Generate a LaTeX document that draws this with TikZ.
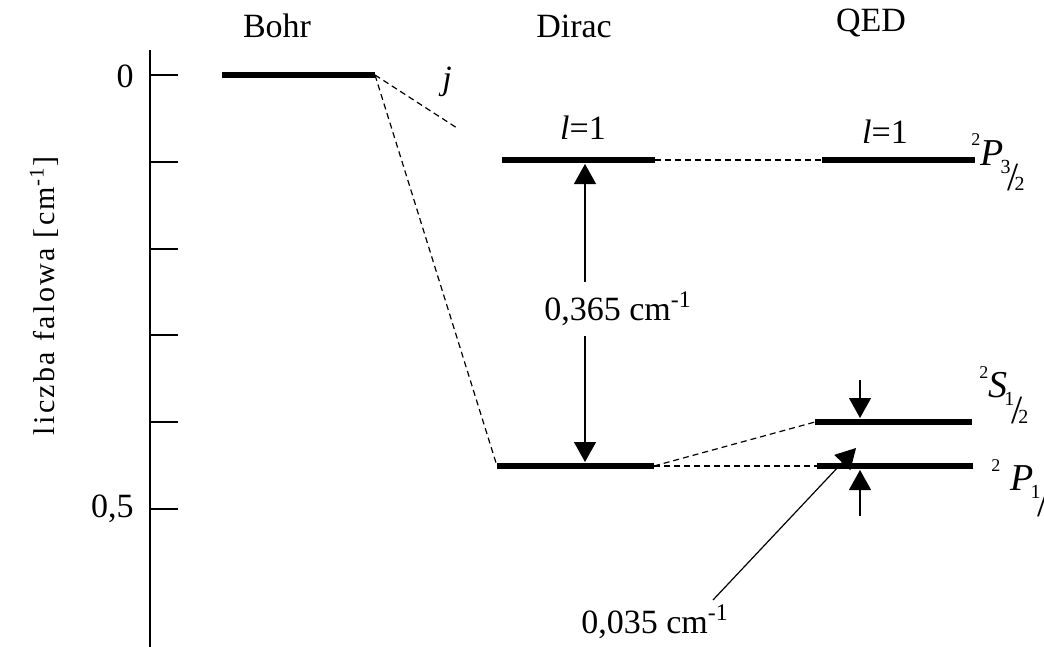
\documentclass[tikz,border=0pt]{standalone}
\usepackage{fontspec}
\setmainfont{Liberation Serif}
\usetikzlibrary{arrows.meta}
\newcommand{\termlab}[3][0pt]{\raisebox{0.5em}{\fontsize{9}{9}\selectfont 2}\kern#1\textit{#2}\kern-0.08em\raisebox{-13pt}{\fontsize{10}{10}\selectfont\raisebox{9pt}{#3}\kern-1.5pt{\fontsize{20}{20}\selectfont/}\kern-2pt2}}
\begin{document}
\begin{tikzpicture}[x=0.5pt,y=-0.5pt,
    every node/.style={font=\fontsize{17}{19}\selectfont, inner sep=1pt},
    level/.style={line width=3.3pt},
    link/.style={dash pattern=on 3pt off 2pt, line width=0.6pt},
    gap/.style={-{Triangle[width=11pt,length=10pt]}, line width=0.6pt},
    term/.style={anchor=base west, font=\fontsize{19}{21}\selectfont}]
    \useasboundingbox (0,0) rectangle (1044,647);

    % axis
    \draw[line width=1pt] (150,50) -- (150,647);
    \foreach \t in {0,...,5}
        \draw[line width=1pt] (150,75+86.8*\t) -- (178,75+86.8*\t);
    \node[anchor=east] (z0) at (136,76) {0};
    \node[anchor=east] (z5) at (136,509) {0,5};
    \node[rotate=90, font=\fontsize{15}{17}\selectfont\addfontfeature{LetterSpace=8}] (ylab) at (44,296) {liczba falowa [cm\textsuperscript{-1}]};

    % headers
    \node[anchor=base] (bohr) at (277,38) {Bohr};
    \node[anchor=base] (dirac) at (574,38) {Dirac};
    \node[anchor=base] (qed) at (871,32) {QED};

    % levels
    \coordinate (bl) at (222,75);  \coordinate (br) at (375,75);
    \coordinate (d3l) at (502,160); \coordinate (d3r) at (655,160);
    \coordinate (d1l) at (497,466); \coordinate (d1r) at (654,466);
    \coordinate (q3l) at (822,160); \coordinate (q3r) at (975,160);
    \coordinate (qsl) at (815,422); \coordinate (qsr) at (972,422);
    \coordinate (qpl) at (817,466); \coordinate (qpr) at (973,466);
    \draw[level] (bl) -- (br);
    \draw[level] (d3l) -- (d3r);
    \draw[level] (d1l) -- (d1r);
    \draw[level] (q3l) -- (q3r);
    \draw[level] (qsl) -- (qsr);
    \draw[level] (qpl) -- (qpr);

    % dashed links
    \coordinate (jend) at (457,128);
    \draw[link] (br) -- (jend);
    \draw[link] (br) -- (d1l);
    \draw[link] (d3r) -- (q3l);
    \draw[link] (d1r) -- (qsl);
    \draw[link] (d1r) -- (qpl);
    \node[anchor=base, font=\fontsize{17}{19}\itshape] (jlab) at (447,90) {j};

    % l = 1
    \node[anchor=base] (dl) at (583,140) {\textit{l}=1};
    \node[anchor=base] (ql) at (885,143) {\textit{l}=1};

    % fine structure splitting
    \coordinate (d3m) at (585,164);
    \coordinate (d1m) at (585,462);
    \node[inner ysep=5pt] (fine) at (618,309) {0,365 cm\textsuperscript{-1}};
    \draw[gap] (fine.north -| d3m) -- (d3m);
    \draw[gap] (fine.south -| d1m) -- (d1m);

    % Lamb shift
    \coordinate (qsa) at (860,380); \coordinate (qst) at (860,418);
    \coordinate (qpa) at (860,516); \coordinate (qpt) at (860,470);
    \draw[gap] (qsa) -- (qst);
    \draw[gap] (qpa) -- (qpt);
    \node (lamb) at (655,622) {0,035 cm\textsuperscript{-1}};
    \coordinate (lambs) at (713,600);
    \coordinate (lambt) at (856,448);
    \draw[gap] (lambs) -- (lambt);

    % term symbols
    \node[term] (t3) at (969,165) {\termlab{P}{3}};
    \node[term] (ts) at (977,397) {\termlab{S}{1}};
    \node[term] (tp) at (989,490) {\termlab[5pt]{P}{1}};
\end{tikzpicture}
\end{document}
